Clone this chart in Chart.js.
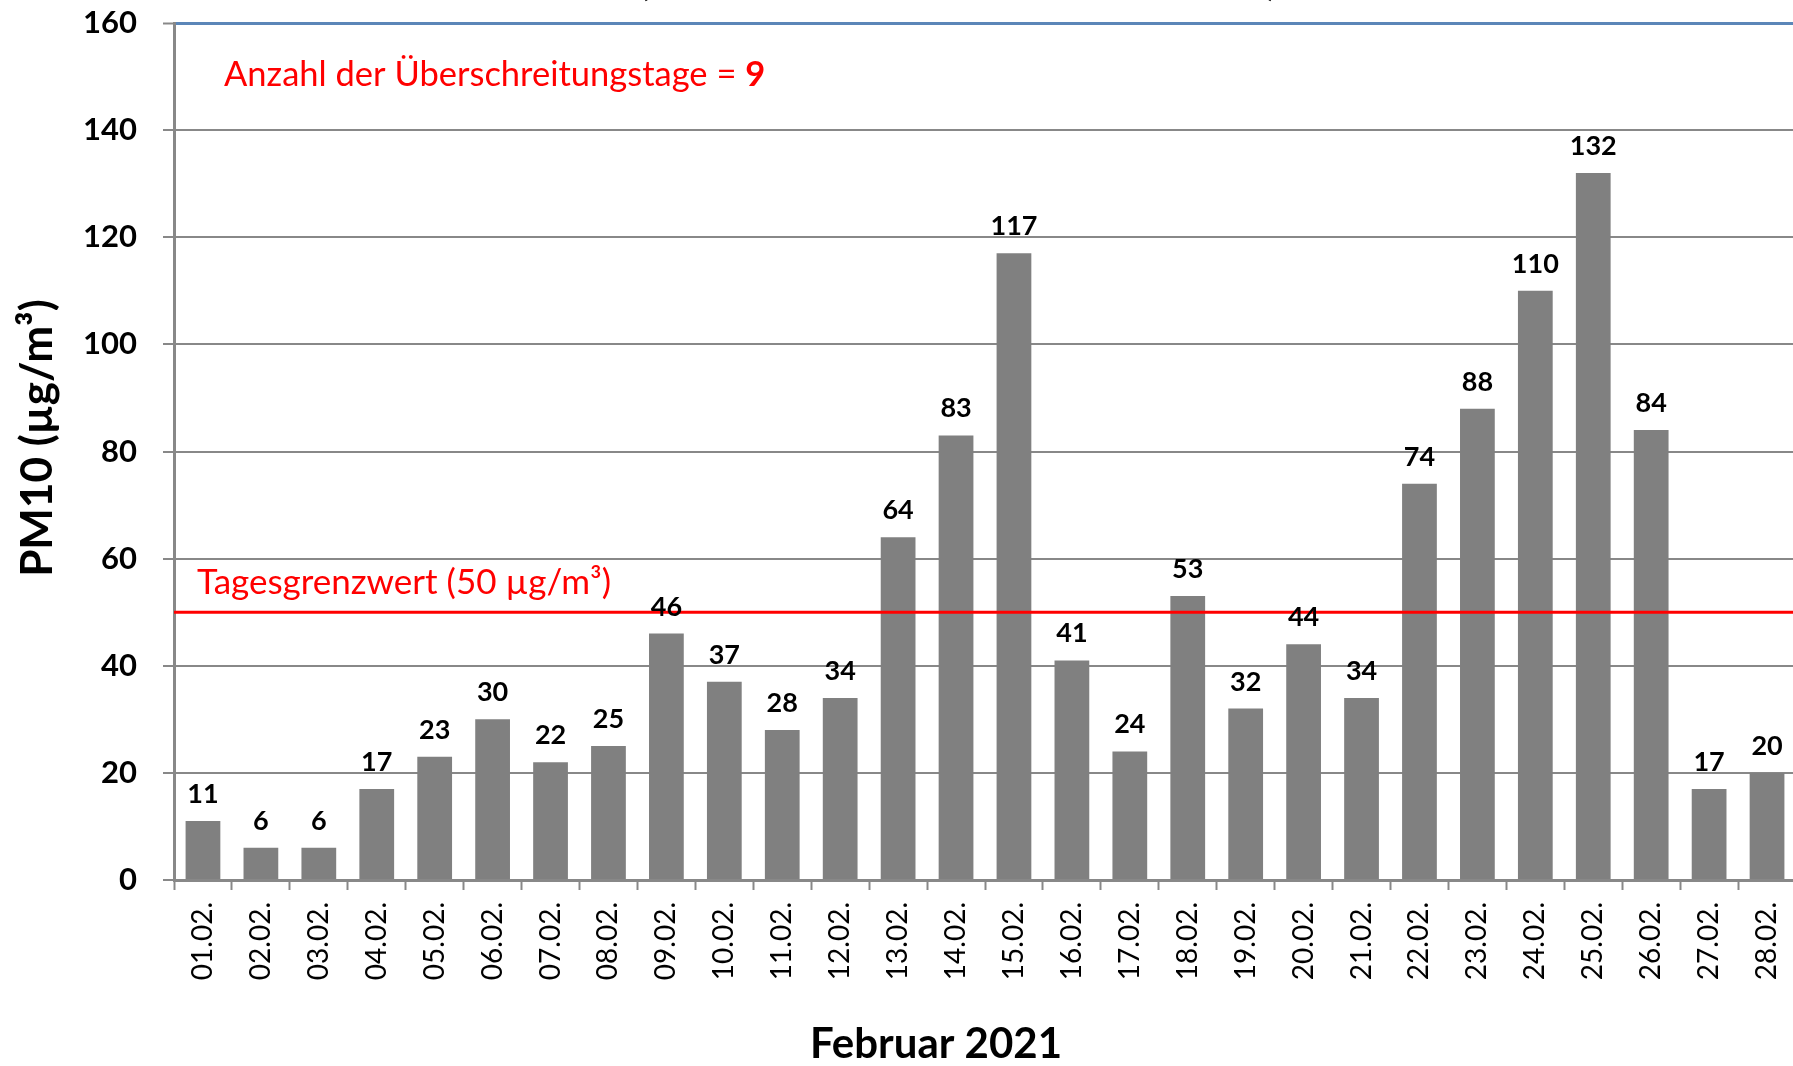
<!DOCTYPE html>
<html>
<head>
<meta charset="utf-8">
<script src="https://cdn.jsdelivr.net/npm/chart.js@4.4.0/dist/chart.umd.min.js"></script>
<style>
  html, body { margin: 0; padding: 0; overflow: hidden; background: #ffffff; }
  canvas { display: block; }
</style>
</head>
<body>
<canvas id="pm10Chart" width="1797" height="1066"></canvas>
<script>
// daily PM10 means, February 2021
const days = [
    "01.02.", "02.02.", "03.02.", "04.02.", "05.02.", "06.02.", "07.02.",
    "08.02.", "09.02.", "10.02.", "11.02.", "12.02.", "13.02.", "14.02.",
    "15.02.", "16.02.", "17.02.", "18.02.", "19.02.", "20.02.", "21.02.",
    "22.02.", "23.02.", "24.02.", "25.02.", "26.02.", "27.02.", "28.02."
];
const pm10 = [11, 6, 6, 17, 23, 30, 22, 25, 46, 37, 28, 34, 64, 83, 117, 41, 24, 53, 32, 44, 34, 74, 88, 110, 132, 84, 17, 20];
const yTicks = [0, 20, 40, 60, 80, 100, 120, 140, 160];
const limitValue = 50;

const limitText = "Tagesgrenzwert (50 µg/m³)";
const countText = "Anzahl der Überschreitungstage = ";
const xTitle = "Februar 2021";
const yTitle = "PM10 (µg/m³)";

const FONT = "Lato, 'Open Sans', sans-serif";
const GRID = "#888888";
const RED = "#ff0000";

const extras = {
    id: "extras",
    afterDatasetsDraw(chart) {
        const ctx = chart.ctx;
        const area = chart.chartArea;
        const y = chart.scales.y;
        const yLimit = y.getPixelForValue(limitValue);

        ctx.save();
        // limit line
        ctx.strokeStyle = RED;
        ctx.lineWidth = 3;
        ctx.beginPath();
        ctx.moveTo(area.left, yLimit);
        ctx.lineTo(area.right, yLimit);
        ctx.stroke();

        // value labels
        ctx.fillStyle = "#000";
        ctx.font = "bold 27px " + FONT;
        ctx.textAlign = "center";
        ctx.textBaseline = "alphabetic";
        chart.getDatasetMeta(0).data.forEach((bar, i) => {
            ctx.fillText(String(pm10[i]), bar.x, bar.y - 18);
        });

        // red notes
        ctx.fillStyle = RED;
        ctx.textAlign = "left";
        ctx.font = "35px " + FONT;
        ctx.fillText(limitText, area.left + 23, yLimit - 18);

        const count = pm10.filter(v => v > limitValue).length;
        ctx.textBaseline = "middle";
        ctx.font = "34.5px " + FONT;
        ctx.fillText(countText, area.left + 50, area.top + 52);
        const w = ctx.measureText(countText).width;
        ctx.font = "bold 34.5px " + FONT;
        ctx.fillText(String(count), area.left + 50 + w, area.top + 52);
        ctx.restore();
    },
    afterDraw(chart) {
        const ctx = chart.ctx;
        ctx.save();
        ctx.fillStyle = "#000";
        ctx.textAlign = "center";
        ctx.textBaseline = "middle";

        ctx.font = "bold 42px " + FONT;
        ctx.fillText(xTitle, 936, 1044);

        ctx.save();
        ctx.translate(38, 438);
        ctx.rotate(-Math.PI / 2);
        ctx.font = "bold 44px " + FONT;
        ctx.fillText(yTitle, 0, 0);
        ctx.restore();

        // bottom of the cut-off chart title
        ctx.font = "bold 46px " + FONT;
        ctx.textBaseline = "alphabetic";
        ctx.fillText("(", 644, -6);
        ctx.fillText(")", 1272, -6);
        ctx.restore();
    }
};

new Chart(document.getElementById("pm10Chart"), {
    type: "bar",
    data: {
        labels: days,
        datasets: [{
            data: pm10,
            backgroundColor: "#808080",
            borderWidth: 0,
            barPercentage: 0.6,
            categoryPercentage: 1
        }]
    },
    options: {
        responsive: false,
        animation: false,
        layout: { padding: { top: 23, right: 1, left: 0, bottom: 0 } },
        plugins: {
            legend: { display: false },
            tooltip: { enabled: false }
        },
        scales: {
            x: {
                offset: true,
                grid: {
                    offset: true,
                    drawOnChartArea: false,
                    drawTicks: true,
                    tickLength: 10,
                    tickColor: GRID,
                    tickWidth: 2
                },
                border: { color: GRID, width: 3 },
                ticks: {
                    color: "#000",
                    font: { family: FONT, size: 28 },
                    minRotation: 90,
                    maxRotation: 90,
                    padding: 12,
                    autoSkip: false
                },
                afterFit(scale) {
                    scale.height = 186;
                    scale.paddingLeft = 0;
                    scale.paddingRight = 0;
                }
            },
            y: {
                min: yTicks[0],
                max: yTicks[yTicks.length - 1],
                afterBuildTicks(scale) {
                    scale.ticks = yTicks.map(v => ({ value: v }));
                },
                grid: {
                    color: c => (c.tick && c.tick.value === 160 ? "#5b86b8" : GRID),
                    lineWidth: c => (c.tick && c.tick.value === 160 ? 3 : 2),
                    tickLength: 11,
                    tickColor: GRID,
                    tickWidth: 2
                },
                border: { color: GRID, width: 3 },
                ticks: {
                    color: "#000",
                    font: { family: FONT, size: 31, weight: "bold" },
                    padding: 26
                },
                afterFit(scale) {
                    scale.width = 174;
                    scale.paddingTop = 0;
                    scale.paddingBottom = 0;
                }
            }
        }
    },
    plugins: [extras]
});
</script>
</body>
</html>
